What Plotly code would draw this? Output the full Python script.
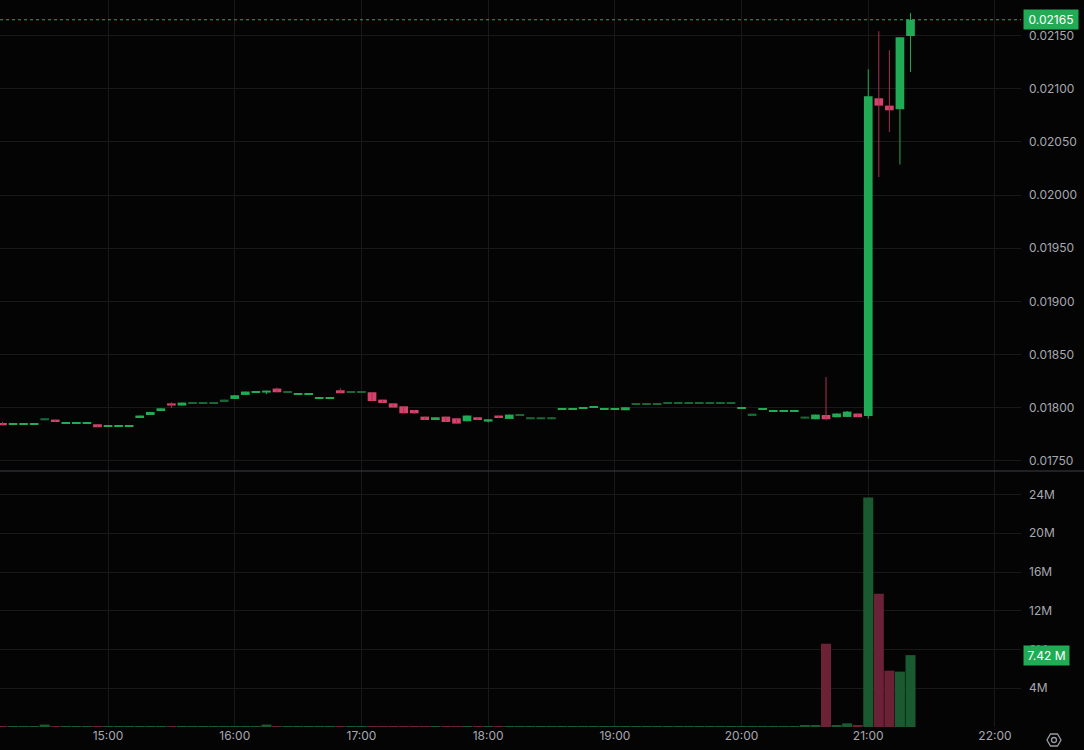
import plotly.graph_objects as go
import pandas as pd

# ---------------- data ----------------
start_time = "2024-01-01 14:10"
opens = [0.017855, 0.01784, 0.01784, 0.01784, 0.01788, 0.017887, 0.01785, 0.01785, 0.01785, 0.017843,
         0.01782, 0.01782, 0.01782, 0.017902, 0.01793, 0.017975, 0.01804, 0.018019, 0.01804, 0.01804,
         0.01804, 0.01806, 0.018081, 0.018119, 0.01814, 0.018141, 0.018179, 0.018141, 0.018125, 0.018125,
         0.018085, 0.018085, 0.018163, 0.01814, 0.01814, 0.018144, 0.018075, 0.01804, 0.018012, 0.017977,
         0.017915, 0.017883, 0.017915, 0.017899, 0.017871, 0.017909, 0.017868, 0.017925, 0.017893, 0.017921,
         0.01789, 0.01789, 0.01789, 0.017981, 0.017981, 0.017993, 0.018003, 0.017984, 0.017984, 0.017975,
         0.018024, 0.018024, 0.018024, 0.018034, 0.018034, 0.018034, 0.018034, 0.018034, 0.018034, 0.018034,
         0.017991, 0.01793, 0.017981, 0.017962, 0.017962, 0.017962, 0.017896, 0.01789, 0.01793, 0.017909,
         0.017912, 0.017944, 0.017921, 0.020911, 0.020842, 0.020808, 0.021497]
closes = [0.017833, 0.01784, 0.01784, 0.01784, 0.0179, 0.017864, 0.01785, 0.01785, 0.01785, 0.017815,
          0.01782, 0.01782, 0.01782, 0.017925, 0.017959, 0.017993, 0.018019, 0.018047, 0.01805, 0.01805,
          0.01805, 0.018075, 0.018116, 0.018151, 0.01814, 0.01816, 0.018144, 0.018153, 0.018125, 0.018125,
          0.018085, 0.018085, 0.018135, 0.018153, 0.018153, 0.018062, 0.018043, 0.018, 0.017946, 0.017946,
          0.017883, 0.017909, 0.017864, 0.017849, 0.017925, 0.017883, 0.01789, 0.017902, 0.017934, 0.017934,
          0.017909, 0.017909, 0.017909, 0.017981, 0.017981, 0.017993, 0.018003, 0.017984, 0.017984, 0.018003,
          0.018043, 0.018043, 0.018043, 0.01805, 0.01805, 0.01805, 0.01805, 0.01805, 0.01805, 0.01805,
          0.017991, 0.017943, 0.017981, 0.017962, 0.017962, 0.017962, 0.017915, 0.017934, 0.01789, 0.017944,
          0.017962, 0.017909, 0.02093, 0.020842, 0.020798, 0.021485, 0.02165]
highs = [0.017865, 0.01784, 0.01784, 0.01784, 0.0179, 0.017887, 0.01785, 0.01785, 0.01785, 0.017843,
         0.01782, 0.01782, 0.01782, 0.017925, 0.017959, 0.017993, 0.01805, 0.018047, 0.01805, 0.01805,
         0.01805, 0.018075, 0.018116, 0.018151, 0.01814, 0.01816, 0.018188, 0.018153, 0.018125, 0.018125,
         0.018085, 0.018085, 0.018182, 0.018153, 0.018153, 0.018144, 0.018075, 0.01804, 0.018012, 0.017977,
         0.017915, 0.017909, 0.017915, 0.017899, 0.017925, 0.017909, 0.01789, 0.017925, 0.017934, 0.017934,
         0.017909, 0.017909, 0.017909, 0.017981, 0.017981, 0.017993, 0.018003, 0.017984, 0.017984, 0.018003,
         0.018043, 0.018043, 0.018043, 0.01805, 0.01805, 0.01805, 0.01805, 0.01805, 0.01805, 0.01805,
         0.017991, 0.017943, 0.017981, 0.017962, 0.017962, 0.017962, 0.017915, 0.017934, 0.018288, 0.017944,
         0.017968, 0.017944, 0.021184, 0.021542, 0.021363, 0.021485, 0.021714]
lows = [0.017833, 0.01784, 0.01784, 0.01784, 0.01788, 0.017864, 0.01785, 0.01785, 0.01785, 0.017815,
        0.01782, 0.01782, 0.01782, 0.017902, 0.01793, 0.017975, 0.017996, 0.018019, 0.01804, 0.01804,
        0.01804, 0.01806, 0.018081, 0.018119, 0.01814, 0.018125, 0.018144, 0.018141, 0.018125, 0.018125,
        0.018085, 0.018085, 0.018135, 0.01814, 0.01814, 0.018062, 0.018043, 0.018, 0.017946, 0.01794,
        0.017883, 0.017883, 0.017864, 0.017849, 0.017871, 0.017883, 0.01786, 0.017902, 0.017893, 0.017921,
        0.01789, 0.01789, 0.01789, 0.017981, 0.017981, 0.017993, 0.018003, 0.017984, 0.017984, 0.017975,
        0.018024, 0.018024, 0.018024, 0.018034, 0.018034, 0.018034, 0.018034, 0.018034, 0.018034, 0.018034,
        0.017991, 0.01793, 0.017981, 0.017962, 0.017962, 0.017962, 0.017896, 0.01789, 0.01788, 0.017909,
        0.017912, 0.017909, 0.017896, 0.02017, 0.020594, 0.020287, 0.021159]
volumes_m = [0.1, 0.1, 0.1, 0.1, 0.25, 0.1, 0.1, 0.1, 0.1, 0.1,
             0.1, 0.1, 0.1, 0.1, 0.1, 0.1, 0.1, 0.1, 0.1, 0.1,
             0.1, 0.1, 0.1, 0.1, 0.1, 0.25, 0.1, 0.1, 0.1, 0.1,
             0.1, 0.1, 0.1, 0.1, 0.1, 0.1, 0.1, 0.1, 0.1, 0.1,
             0.1, 0.1, 0.1, 0.1, 0.1, 0.1, 0.1, 0.1, 0.1, 0.1,
             0.1, 0.1, 0.1, 0.1, 0.1, 0.1, 0.1, 0.1, 0.1, 0.1,
             0.1, 0.1, 0.1, 0.1, 0.1, 0.1, 0.1, 0.1, 0.1, 0.1,
             0.1, 0.1, 0.1, 0.1, 0.1, 0.1, 0.12, 0.18, 8.6, 0.18,
             0.38, 0.16, 23.7, 13.76, 5.82, 5.72, 7.42]
price_ticks = [0.0175, 0.018, 0.0185, 0.019, 0.0195, 0.020, 0.0205, 0.021, 0.0215]
volume_ticks_m = [4, 8, 12, 16, 20, 24]
last_price_label = "0.02165"
last_volume_label = "7.42 M"

# ---------------- style ----------------
muted_candles = {4, 18, 19, 20, 21, 27, 33, 34, 49, 50, 51, 52, 60, 61, 62, 63, 64, 65, 66, 67, 68, 69, 71, 76}
BG = "#040404"
GRID = "#191919"
GREEN = "#22ab55"
GREEN_MUTED = "#1c6636"
RED = "#d4436b"
RED_WICK = "#a8334f"
VOL_GREEN = "#1a5a30"
VOL_RED = "#6b2237"
TEXT = "#a6a8b0"
FONT = "Inter, Roboto, sans-serif"
MIN_BODY = 0.0000095

times = pd.date_range(start_time, periods=len(opens), freq="5min")

body_base, body_h, body_col, vol_col = [], [], [], []
for i, (o, c) in enumerate(zip(opens, closes)):
    lo, hi = min(o, c), max(o, c)
    h = max(hi - lo, MIN_BODY)
    body_base.append(lo)
    body_h.append(h)
    up = c >= o
    if not up:
        body_col.append(RED)
        vol_col.append(VOL_RED)
    elif i in muted_candles:
        body_col.append(GREEN_MUTED)
        vol_col.append(VOL_GREEN)
    else:
        body_col.append(GREEN)
        vol_col.append(VOL_GREEN)

fig = go.Figure()

# wicks grouped by colour
wick_groups = {}
for t, h, l, col in zip(times, highs, lows, body_col):
    wc = RED_WICK if col == RED else col
    xs, ys = wick_groups.setdefault(wc, ([], []))
    xs += [t, t, None]
    ys += [l, h, None]
for wc, (xs, ys) in wick_groups.items():
    fig.add_trace(go.Scatter(x=xs, y=ys, mode="lines", line=dict(color=wc, width=1),
                             hoverinfo="skip", showlegend=False, xaxis="x", yaxis="y"))

fig.add_trace(go.Bar(x=times, y=body_h, base=body_base, width=247000,
                     marker=dict(color=body_col, line=dict(width=0)),
                     hoverinfo="skip", showlegend=False, xaxis="x", yaxis="y"))

fig.add_trace(go.Bar(x=times, y=[v * 1e6 for v in volumes_m], width=285000,
                     marker=dict(color=vol_col, line=dict(width=0)),
                     hoverinfo="skip", showlegend=False, xaxis="x2", yaxis="y2"))

x_range = ["2024-01-01 14:08:50", "2024-01-01 22:12:20"]
split = 1 - 471 / 727

axis_common = dict(showline=False, zeroline=False, gridcolor=GRID, gridwidth=1, ticks="")
fig.update_layout(
    width=1084, height=750,
    margin=dict(l=0, r=63, t=0, b=23),
    paper_bgcolor=BG, plot_bgcolor=BG,
    barmode="overlay",
    showlegend=False,
    font=dict(family=FONT, color=TEXT, size=12),
    xaxis=dict(domain=[0, 1], anchor="y", type="date", range=x_range, dtick=3600000,
               tick0="2024-01-01 00:00", showticklabels=False, **axis_common),
    xaxis2=dict(domain=[0, 1], anchor="y2", type="date", range=x_range, dtick=3600000,
                tick0="2024-01-01 00:00", tickformat="%H:%M", matches="x",
                tickfont=dict(size=12, color=TEXT, family=FONT), **axis_common),
    yaxis=dict(domain=[split, 1], anchor="x", side="right", range=[0.017403, 0.021836],
               tickvals=price_ticks, ticktext=[f"{p:.5f}" for p in price_ticks],
               ticklabelstandoff=7, tickfont=dict(size=12, color=TEXT, family=FONT), **axis_common),
    yaxis2=dict(domain=[0, split], anchor="x2", side="right", range=[0, 26.43e6],
                tickvals=[v * 1e6 for v in volume_ticks_m], ticktext=[f"{v}M" for v in volume_ticks_m],
                ticklabelstandoff=7, tickfont=dict(size=12, color=TEXT, family=FONT), **axis_common),
)

# last price dotted line
fig.add_shape(type="line", xref="paper", x0=0, x1=1, yref="y", y0=float(last_price_label),
              y1=float(last_price_label), line=dict(color=GREEN, width=1, dash="dot"))
# pane separator
fig.add_shape(type="line", xref="paper", x0=0, x1=1084 / 1021, yref="paper", y0=split, y1=split,
              line=dict(color="#3c3e48", width=1))

fig.add_annotation(xref="paper", x=1, xanchor="left", xshift=2, yref="y", y=float(last_price_label),
                   text=last_price_label, showarrow=False, bgcolor=GREEN, borderpad=2,
                   font=dict(color="white", size=12, family=FONT), width=50, align="center")
fig.add_annotation(xref="paper", x=1, xanchor="left", xshift=2, yref="y2", y=7.42e6,
                   text=last_volume_label, showarrow=False, bgcolor=GREEN, borderpad=2,
                   font=dict(color="white", size=12, family=FONT), width=41, align="center")

# settings icon (hexagon + circle) at bottom right, in pixel-based paper coords
def px(x, y):
    return x / 1021, (727 - y) / 727
cx, cy = 1054, 740
pts = [(cx + 7, cy), (cx + 3.5, cy - 6), (cx - 3.5, cy - 6), (cx - 7, cy), (cx - 3.5, cy + 6), (cx + 3.5, cy + 6)]
path = "M " + " L ".join(f"{px(a, b)[0]},{px(a, b)[1]}" for a, b in pts) + " Z"
fig.add_shape(type="path", xref="paper", yref="paper", path=path, line=dict(color="#9a9ca4", width=1.3))
x0, y0 = px(cx - 2.5, cy - 2.5)
x1, y1 = px(cx + 2.5, cy + 2.5)
fig.add_shape(type="circle", xref="paper", yref="paper", x0=x0, y0=y0, x1=x1, y1=y1,
              line=dict(color="#9a9ca4", width=1.3))

fig.write_html("out.html", config={"displayModeBar": False},
               post_script="document.body.style.margin='0';document.body.style.overflow='hidden';")
